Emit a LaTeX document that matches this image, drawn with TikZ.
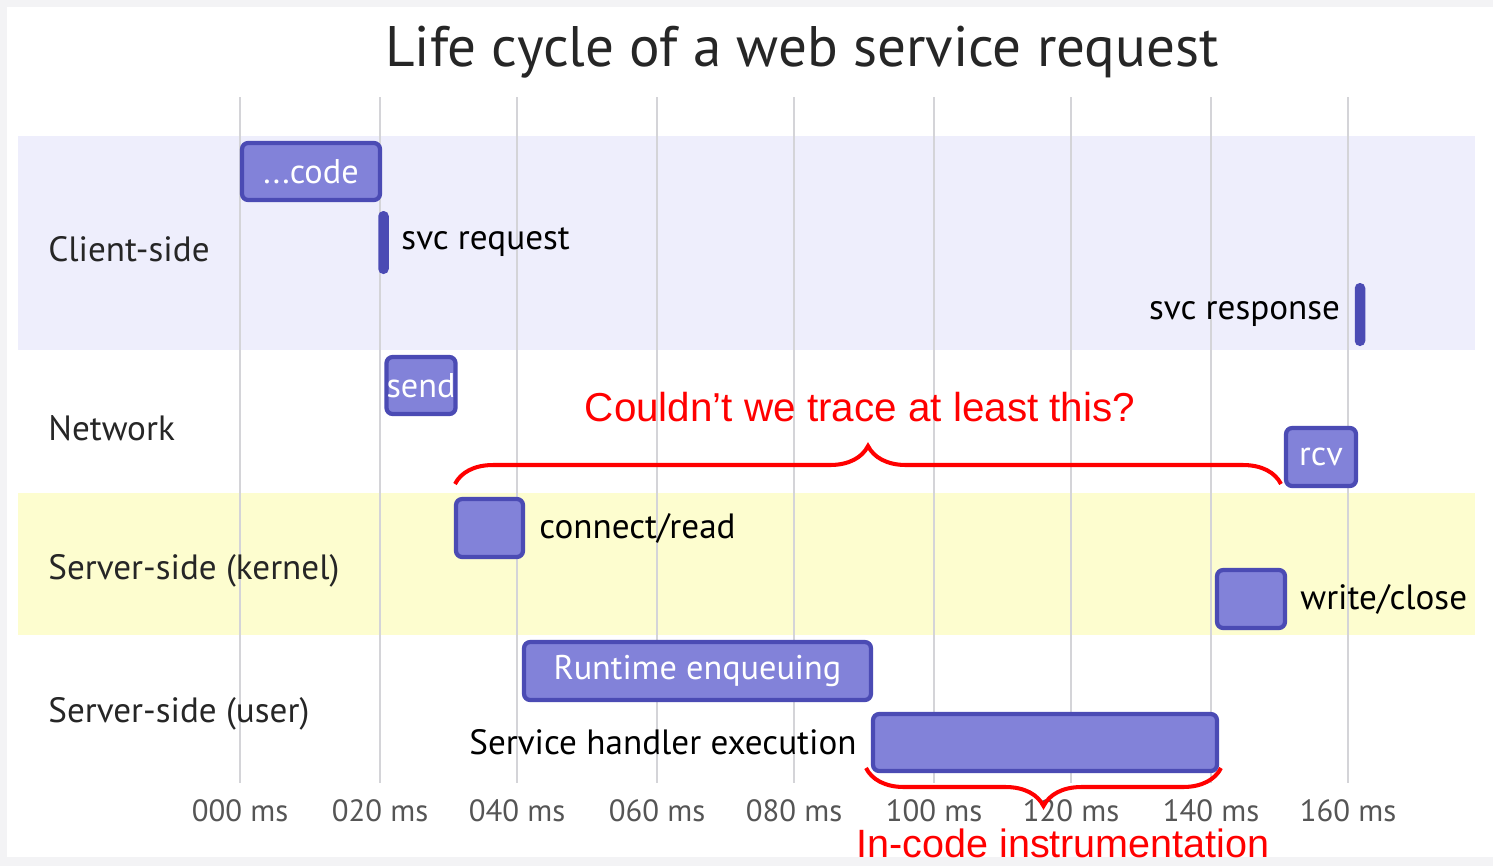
\documentclass[tikz,border=0pt]{standalone}
\usepackage{fontspec}
\setmainfont{PT Sans}
\newfontfamily\notefont{Liberation Sans}
\usetikzlibrary{positioning,decorations.pathreplacing}

\definecolor{barfill}{HTML}{8282D9}
\definecolor{barline}{HTML}{4B4BB4}
\definecolor{clientbg}{HTML}{EEEEFC}
\definecolor{kernelbg}{HTML}{FDFDCF}
\definecolor{gridgray}{HTML}{D4D4D8}
\definecolor{framegray}{HTML}{F3F3F5}
\definecolor{axisgray}{HTML}{555555}

\begin{document}
\begin{tikzpicture}[x=0.02cm,y=-0.02cm,
    bar/.style={draw=barline,fill=barfill,line width=2.4pt,rounded corners=3.5pt,inner sep=0pt,text=white,font=\fontsize{19.5}{20}\selectfont},
    thinbar/.style={fill=barline,rounded corners=0.1cm,inner sep=0pt,minimum width=0.21cm,minimum height=1.26cm},
    lbl/.style={inner sep=0pt,font=\fontsize{20}{20}\selectfont},
    rowlbl/.style={anchor=west,inner sep=0pt,text=black!85,font=\fontsize{20}{20}\selectfont},
    tick/.style={anchor=base,inner sep=0pt,text=axisgray,font=\fontsize{17.5}{18}\selectfont},
    note/.style={inner sep=0pt,text=red,font=\notefont\fontsize{23}{23}\selectfont},
    curly/.style={draw=red,line width=2.3pt,decorate,decoration={brace,amplitude=0.76cm}}]
    \useasboundingbox (0,0) rectangle (1493,866);
    \fill[framegray] (0,0) rectangle (1493,866);
    \fill[white] (7,7) rectangle (1493,857);

    \node[inner sep=0pt,text=black!85,font=\fontsize{32.5}{33}\selectfont] (title) at (802,52) {Life cycle of a web service request};

    \fill[clientbg] (18,136) rectangle (1475,350);
    \fill[kernelbg] (18,493) rectangle (1475,635);

    \foreach \x/\t in {240/000,380/020,517/040,657/060,794/080,934/100,1071/120,1211/140,1348/160} {
        \draw[gridgray,line width=1.2pt] (\x,97) -- (\x,783);
        \node[tick] (t\t) at (\x,821) {\t{} ms};
    }

    \node[rowlbl] (client) at (48,249) {Client-side};
    \node[rowlbl] (network) at (48,428) {Network};
    \node[rowlbl] (kernel) at (48,571) {Server-side (kernel)};
    \node[rowlbl] (user) at (48,714) {Server-side (user)};

    \node[bar,minimum width=2.76cm,minimum height=1.14cm] (code) at (311,171.5) {...code};
    \node[thinbar] (req) at (383.5,242.5) {};
    \node[lbl,right=0.24cm of req] (reqlbl) {svc request};
    \node[thinbar] (resp) at (1360,314.5) {};
    \node[lbl,left=0.28cm of resp] (resplbl) {svc response};
    \node[bar,minimum width=1.36cm,minimum height=1.14cm] (send) at (421,385.5) {send};
    \node[bar,minimum width=1.40cm,minimum height=1.16cm] (rcv) at (1321,457) {rcv};
    \node[bar,minimum width=1.34cm,minimum height=1.16cm] (conn) at (489.5,528) {};
    \node[lbl,right=0.28cm of conn] (connlbl) {connect/read};
    \node[bar,minimum width=1.36cm,minimum height=1.16cm] (wc) at (1251,599) {};
    \node[lbl,right=0.26cm of wc] (wclbl) {write/close};
    \node[bar,minimum width=6.94cm,minimum height=1.16cm] (rte) at (697.5,671) {Runtime enqueuing};
    \node[bar,minimum width=6.88cm,minimum height=1.14cm] (she) at (1045,742.5) {};
    \node[lbl,left=0.28cm of she] (shelbl) {Service handler execution};

    \coordinate (up1) at (455,484);
    \coordinate (up2) at (1281,484);
    \draw[curly] (up1) -- (up2);
    \node[note] (question) at (860,407) {Couldn’t we trace at least this?};

    \coordinate (lo1) at (1221,768);
    \coordinate (lo2) at (866,768);
    \draw[curly] (lo1) -- (lo2);
    \node[note,anchor=base,font=\notefont\fontsize{22.5}{23}\selectfont] (incode) at (1063,857) {In-code instrumentation};
\end{tikzpicture}
\end{document}
